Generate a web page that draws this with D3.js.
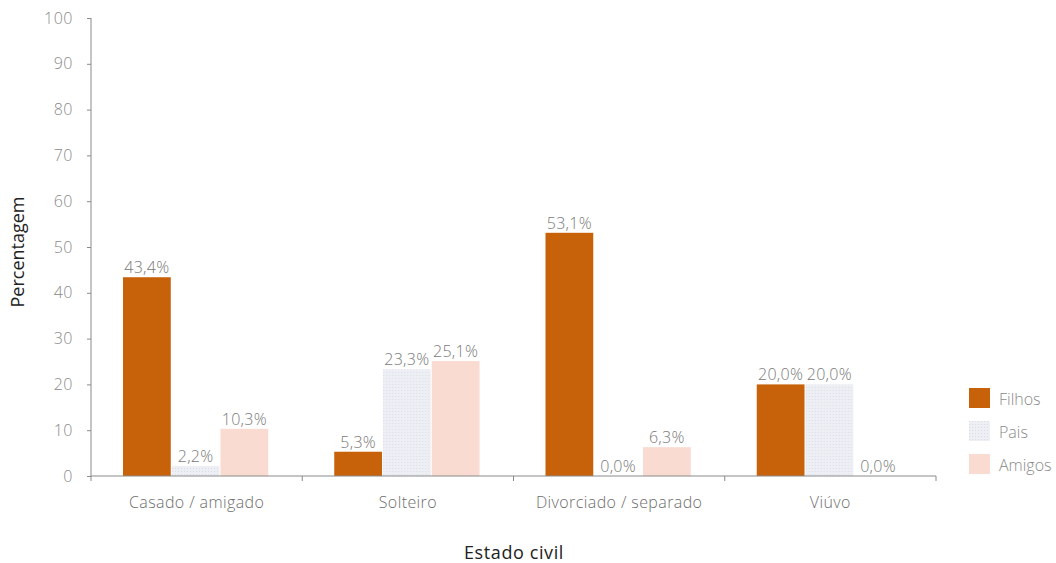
<!DOCTYPE html>
<html>
<head>
<meta charset="utf-8">
<script src="https://cdn.jsdelivr.net/npm/d3@7"></script>
<style>
  html, body { margin: 0; padding: 0; background: #fff; }
  svg { display: block; }
  .tick text { font-family: "Open Sans", "Noto Sans", sans-serif; font-weight: 300; }
</style>
</head>
<body>
<svg id="chart" width="1056" height="563"></svg>
<script>
// Marital status categories and the share (%) in each support group
const categories = ["Casado / amigado", "Solteiro", "Divorciado / separado", "Viúvo"];
const seriesNames = ["Filhos", "Pais", "Amigos"];
const filhos = [43.4, 5.3, 53.1, 20.0];
const pais   = [2.2, 23.3, 0.0, 20.0];
const amigos = [10.3, 25.1, 6.3, 0.0];
const yTicks = [0, 10, 20, 30, 40, 50, 60, 70, 80, 90, 100];

const seriesValues = [filhos, pais, amigos];
const colors = ["#c8620a", "url(#paisDots)", "#f9dbd2"];
const lightFont = "'Open Sans', 'Noto Sans', sans-serif";

const svg = d3.select("#chart");

// Dotted light fill used for the "Pais" series
const defs = svg.append("defs");
const pat = defs.append("pattern")
  .attr("id", "paisDots").attr("patternUnits", "userSpaceOnUse")
  .attr("width", 3).attr("height", 3);
pat.append("rect").attr("width", 3).attr("height", 3).attr("fill", "#edeff4");
pat.append("rect").attr("width", 1).attr("height", 1).attr("fill", "#d9dde6");

const margin = { left: 91, top: 18, right: 120, bottom: 87 };
const plotW = 936 - margin.left;
const plotH = 476 - margin.top;

const g = svg.append("g").attr("transform", `translate(${margin.left},${margin.top})`);

const x0 = d3.scaleBand().domain(categories).range([0, plotW]).paddingInner(0).paddingOuter(0);
const x1 = d3.scaleBand().domain(seriesNames).range([32, x0.bandwidth() - 34]).paddingInner(0.02);
const y = d3.scaleLinear().domain([0, 100]).range([plotH, 0]);

// Y axis
const yAxis = g.append("g")
  .call(d3.axisLeft(y).tickValues(yTicks).tickSize(4).tickPadding(14).tickFormat(d3.format("d")));
yAxis.select(".domain").attr("stroke", "#8a8a8a").attr("d", `M0,${plotH}V0`);
yAxis.selectAll(".tick line").attr("stroke", "#8a8a8a");
yAxis.selectAll(".tick text").attr("fill", "#8a8a8a").attr("font-size", 16)
  .attr("letter-spacing", 0.5);

// Bars
const groups = g.selectAll("g.cat")
  .data(categories)
  .join("g")
  .attr("class", "cat")
  .attr("transform", d => `translate(${x0(d)},0)`);

groups.each(function(cat, ci) {
  const grp = d3.select(this);
  seriesNames.forEach((s, si) => {
    const v = seriesValues[si][ci];
    grp.append("rect")
      .attr("x", x1(s))
      .attr("y", y(v))
      .attr("width", x1.bandwidth())
      .attr("height", plotH - y(v))
      .attr("fill", colors[si]);
    grp.append("text")
      .attr("x", x1(s) + x1.bandwidth() / 2)
      .attr("y", y(v) - 4)
      .attr("text-anchor", "middle")
      .attr("font-family", lightFont)
      .attr("font-weight", 300)
      .attr("font-size", 16)
      .attr("letter-spacing", 0.3)
      .attr("fill", "#7a7a7a")
      .text(d3.format(".1f")(v).replace(".", ",") + "%");
  });
});

// X axis with ticks at category boundaries
const xAxisG = g.append("g").attr("transform", `translate(0,${plotH})`);
xAxisG.append("line").attr("x1", 0).attr("x2", plotW).attr("stroke", "#8a8a8a");
const boundaries = categories.map(c => x0(c)).concat([plotW]);
xAxisG.selectAll("line.tk").data(boundaries).join("line")
  .attr("class", "tk")
  .attr("x1", d => d).attr("x2", d => d).attr("y1", 0).attr("y2", 5)
  .attr("stroke", "#8a8a8a");
xAxisG.selectAll("text.cat").data(categories).join("text")
  .attr("class", "cat")
  .attr("x", d => x0(d) + x0.bandwidth() / 2)
  .attr("y", 32)
  .attr("text-anchor", "middle")
  .attr("font-family", lightFont)
  .attr("font-weight", 300)
  .attr("font-size", 16)
  .attr("letter-spacing", 0.4)
  .attr("fill", "#6e6e6e")
  .text(d => d);

// Axis titles
svg.append("text")
  .attr("x", 514).attr("y", 559)
  .attr("text-anchor", "middle")
  .attr("font-family", lightFont)
  .attr("font-size", 18)
  .attr("letter-spacing", 0.6)
  .attr("fill", "#222")
  .text("Estado civil");

svg.append("text")
  .attr("transform", "translate(24,252) rotate(-90)")
  .attr("text-anchor", "middle")
  .attr("font-family", lightFont)
  .attr("font-size", 18)
  .attr("fill", "#222")
  .text("Percentagem");

// Legend
const legend = svg.append("g").attr("transform", "translate(969,388)");
seriesNames.forEach((s, i) => {
  const row = legend.append("g").attr("transform", `translate(0,${i * 33})`);
  row.append("rect").attr("width", 21).attr("height", 20).attr("fill", colors[i]);
  row.append("text")
    .attr("x", 30).attr("y", 17)
    .attr("font-family", lightFont)
    .attr("font-weight", 300)
    .attr("font-size", 16)
    .attr("fill", "#8a8a8a")
    .text(s);
});
</script>
</body>
</html>
